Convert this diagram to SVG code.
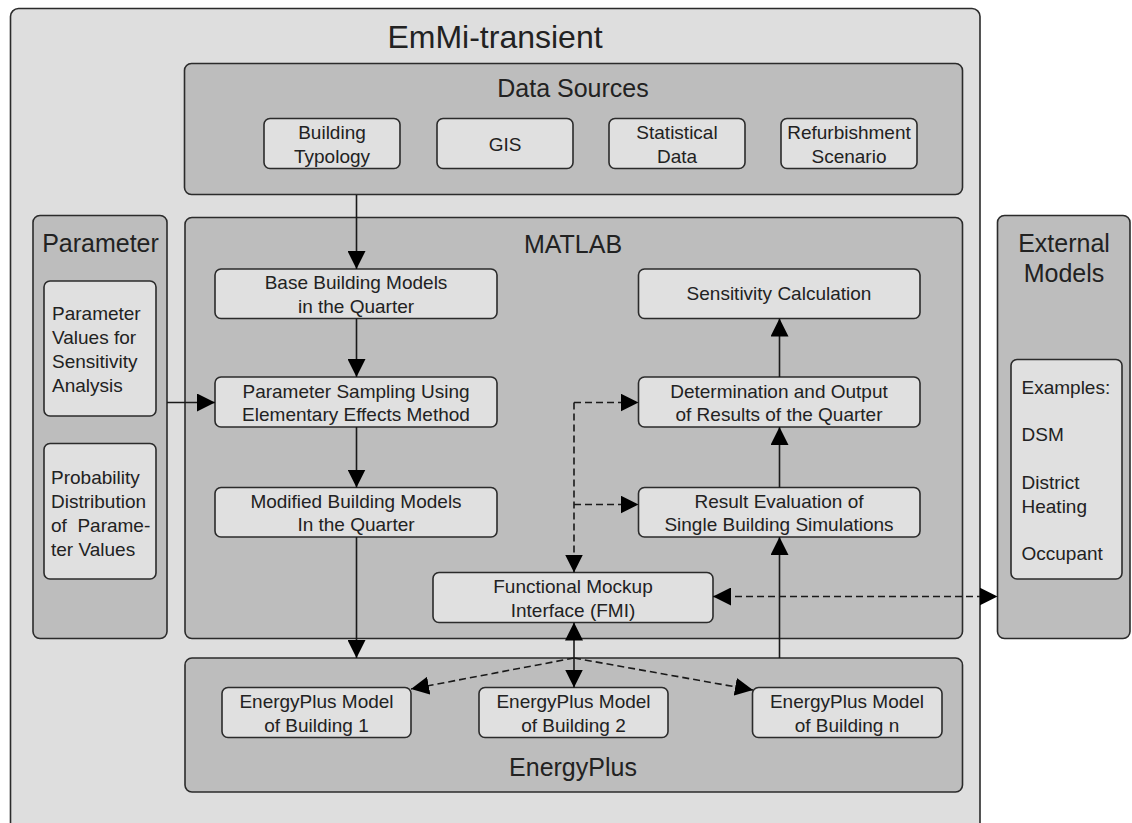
<svg xmlns="http://www.w3.org/2000/svg" width="1132" height="823" viewBox="0 0 1132 823">
<style>
  .outer{fill:#dedede;stroke:#2b2b2b;stroke-width:1.6}
  .cont{fill:#bdbdbd;stroke:#2b2b2b;stroke-width:1.6}
  .box{fill:#e0e0e0;stroke:#2b2b2b;stroke-width:1.6}
  text{font-family:"Liberation Sans",Arial,sans-serif;fill:#222}
  .t1{font-size:32px;text-anchor:middle}
  .t2{font-size:25px;text-anchor:middle}
  .t3{font-size:19px;text-anchor:middle}
  .tl{font-size:19px;text-anchor:start}
  .c{fill:none;stroke:#1a1a1a;stroke-width:1.6}
  .d{fill:none;stroke:#1a1a1a;stroke-width:1.6;stroke-dasharray:7 4}
</style>
<defs>
  <marker id="ah" viewBox="0 0 18 18" refX="18" refY="9" markerWidth="18" markerHeight="18" markerUnits="userSpaceOnUse" orient="auto-start-reverse">
    <path d="M0,0 L18,9 L0,18 Z" fill="#000" stroke="none"/>
  </marker>
</defs>
<rect x="0" y="0" width="1132" height="823" fill="#ffffff"/>

<g id="emmi">
  <rect class="outer" x="10.5" y="8.5" width="969.5" height="840" rx="8"/>
  <text class="t1" x="495" y="48">EmMi-transient</text>
</g>

<g id="data-sources">
  <rect class="cont" x="184.5" y="63.5" width="778" height="131" rx="7"/>
  <text class="t2" x="573" y="97">Data Sources</text>
</g>
<g id="building-typology">
  <rect class="box" x="264" y="118.5" width="136" height="50" rx="6"/>
  <text class="t3" x="332" y="138.5">Building</text>
  <text class="t3" x="332" y="162.5">Typology</text>
</g>
<g id="gis">
  <rect class="box" x="437" y="118.5" width="136" height="50" rx="6"/>
  <text class="t3" x="505" y="150.5">GIS</text>
</g>
<g id="statistical-data">
  <rect class="box" x="609" y="118.5" width="136" height="50" rx="6"/>
  <text class="t3" x="677" y="138.5">Statistical</text>
  <text class="t3" x="677" y="162.5">Data</text>
</g>
<g id="refurbishment-scenario">
  <rect class="box" x="781" y="118.5" width="136" height="50" rx="6"/>
  <text class="t3" x="849" y="138.5">Refurbishment</text>
  <text class="t3" x="849" y="162.5">Scenario</text>
</g>

<g id="parameter">
  <rect class="cont" x="33" y="215.5" width="134" height="423" rx="7"/>
  <text class="t2" x="100.5" y="251.5">Parameter</text>
</g>
<g id="parameter-values">
  <rect class="box" x="44" y="281" width="112" height="135" rx="6"/>
  <text class="tl" x="52" y="320">Parameter</text>
  <text class="tl" x="52" y="344">Values for</text>
  <text class="tl" x="52" y="368">Sensitivity</text>
  <text class="tl" x="52" y="392">Analysis</text>
</g>
<g id="probability-distribution">
  <rect class="box" x="44" y="443.5" width="112" height="135.5" rx="6"/>
  <text class="tl" x="51" y="483.5">Probability</text>
  <text class="tl" x="51" y="507.5">Distribution</text>
  <text class="tl" x="51" y="531.5" xml:space="preserve">of  Parame-</text>
  <text class="tl" x="51" y="555.5">ter Values</text>
</g>

<g id="matlab">
  <rect class="cont" x="185" y="217.5" width="777.5" height="421" rx="7"/>
  <text class="t2" x="573" y="253">MATLAB</text>
</g>
<g id="base-building-models">
  <rect class="box" x="215" y="269" width="282" height="49.5" rx="6"/>
  <text class="t3" x="356" y="289">Base Building Models</text>
  <text class="t3" x="356" y="312.5">in the Quarter</text>
</g>
<g id="parameter-sampling">
  <rect class="box" x="215" y="377" width="282" height="50" rx="6"/>
  <text class="t3" x="356" y="397.5">Parameter Sampling Using</text>
  <text class="t3" x="356" y="421">Elementary Effects Method</text>
</g>
<g id="modified-building-models">
  <rect class="box" x="215" y="487.5" width="282" height="49.5" rx="6"/>
  <text class="t3" x="356" y="507.5">Modified Building Models</text>
  <text class="t3" x="356" y="531">In the Quarter</text>
</g>
<g id="sensitivity-calculation">
  <rect class="box" x="638.5" y="269" width="281.5" height="49.5" rx="6"/>
  <text class="t3" x="779" y="300">Sensitivity Calculation</text>
</g>
<g id="determination-output">
  <rect class="box" x="638.5" y="377" width="281.5" height="50" rx="6"/>
  <text class="t3" x="779" y="397.5">Determination and Output</text>
  <text class="t3" x="779" y="421">of Results of the Quarter</text>
</g>
<g id="result-evaluation">
  <rect class="box" x="638.5" y="487.5" width="281.5" height="49.5" rx="6"/>
  <text class="t3" x="779" y="507.5">Result Evaluation of</text>
  <text class="t3" x="779" y="531">Single Building Simulations</text>
</g>
<g id="fmi">
  <rect class="box" x="433" y="572.5" width="280" height="50" rx="6"/>
  <text class="t3" x="573" y="593">Functional Mockup</text>
  <text class="t3" x="573" y="617">Interface (FMI)</text>
</g>

<g id="energyplus">
  <rect class="cont" x="185" y="658" width="777.5" height="134" rx="7"/>
  <text class="t2" x="573" y="776">EnergyPlus</text>
</g>
<g id="ep-building-1">
  <rect class="box" x="222" y="687.5" width="189" height="50" rx="6"/>
  <text class="t3" x="316.5" y="708">EnergyPlus Model</text>
  <text class="t3" x="316.5" y="732">of Building 1</text>
</g>
<g id="ep-building-2">
  <rect class="box" x="479" y="687.5" width="189" height="50" rx="6"/>
  <text class="t3" x="573.5" y="708">EnergyPlus Model</text>
  <text class="t3" x="573.5" y="732">of Building 2</text>
</g>
<g id="ep-building-n">
  <rect class="box" x="752.5" y="687.5" width="189.5" height="50" rx="6"/>
  <text class="t3" x="847" y="708">EnergyPlus Model</text>
  <text class="t3" x="847" y="732">of Building n</text>
</g>

<g id="external-models">
  <rect class="cont" x="997.5" y="215.5" width="132.5" height="423" rx="7"/>
  <text class="t2" x="1064" y="251.5">External</text>
  <text class="t2" x="1064" y="281.5">Models</text>
</g>
<g id="examples">
  <rect class="box" x="1011" y="359.5" width="111" height="219.5" rx="6"/>
  <text class="tl" x="1021.5" y="394">Examples:</text>
  <text class="tl" x="1021.5" y="441">DSM</text>
  <text class="tl" x="1021.5" y="488.5">District</text>
  <text class="tl" x="1021.5" y="512.5">Heating</text>
  <text class="tl" x="1021.5" y="560">Occupant</text>
</g>

<g id="connectors">
  <path class="c" d="M356.5,195 V269" marker-end="url(#ah)"/>
  <path class="c" d="M356.5,318.5 V377" marker-end="url(#ah)"/>
  <path class="c" d="M356.5,427 V487.5" marker-end="url(#ah)"/>
  <path class="c" d="M356.5,537 V658" marker-end="url(#ah)"/>
  <path class="c" d="M167,402.5 H215" marker-end="url(#ah)"/>
  <path class="c" d="M779.5,658 V537" marker-end="url(#ah)"/>
  <path class="c" d="M779.5,487.5 V427" marker-end="url(#ah)"/>
  <path class="c" d="M779.5,377 V318.5" marker-end="url(#ah)"/>
  <path class="c" d="M574,658 V622.5" marker-end="url(#ah)"/>
  <path class="c" d="M574,658 V687.5" marker-end="url(#ah)"/>
  <path class="d" d="M574,402.5 V572.5" marker-end="url(#ah)"/>
  <path class="d" d="M574,402.5 H638.5" marker-end="url(#ah)"/>
  <path class="d" d="M574,504.5 H638.5" marker-end="url(#ah)"/>
  <path class="d" d="M713,596.5 H997.5" marker-start="url(#ah)" marker-end="url(#ah)"/>
  <path class="d" d="M574,658 L411,689" marker-end="url(#ah)"/>
  <path class="d" d="M574,658 L753,690" marker-end="url(#ah)"/>
</g>
</svg>
